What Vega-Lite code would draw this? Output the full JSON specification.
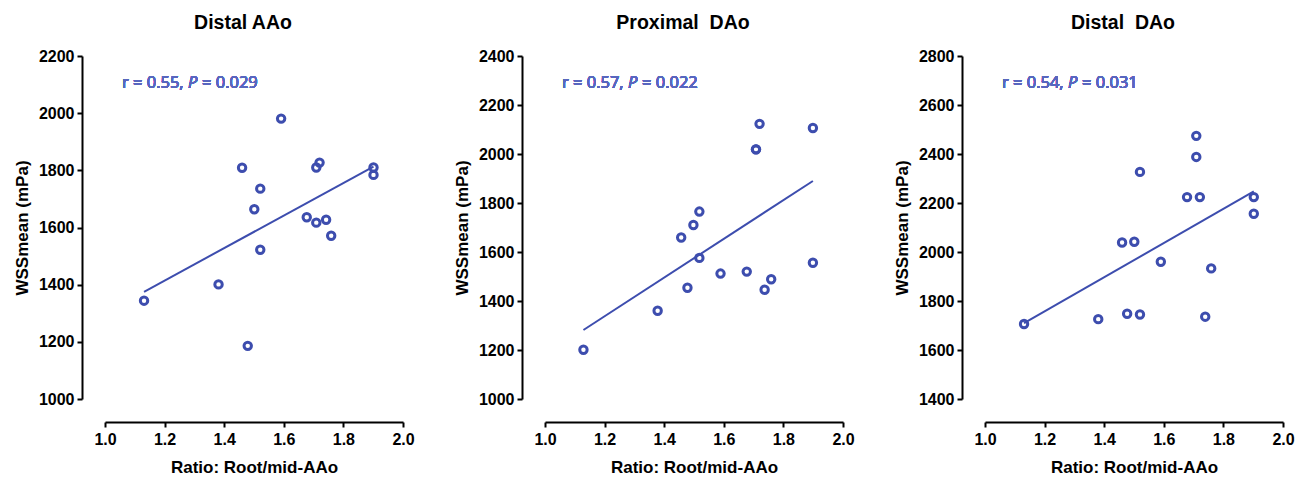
{
  "$schema": "https://vega.github.io/schema/vega-lite/v6.json",
  "background": "white",
  "padding": {"left": 13, "top": 12, "right": 5, "bottom": 5},
  "spacing": 142,
  "bounds": "flush",
  "config": {
    "view": {"stroke": null},
    "axis": {
      "grid": false, "domainColor": "black", "domainWidth": 2, "tickColor": "black", "tickWidth": 2, "tickSize": 5,
      "labelFont": "Liberation Sans", "labelFontWeight": "bold", "labelFontSize": 16, "labelColor": "black", "labelFlush": false,
      "titleFont": "Liberation Sans", "titleFontWeight": "bold", "titleFontSize": 17, "titleColor": "black",
      "offset": 23
    },
    "axisX": {"titlePadding": 12, "labelPadding": 4},
    "axisY": {"titlePadding": 7, "labelPadding": 3},
    "title": {"font": "Liberation Sans", "fontWeight": "bold", "fontSize": 19.5, "color": "black", "dx": -11, "offset": 15},
    "text": {"font": "Open Sans", "fontSize": 16.5, "color": "#5866BF", "align": "left", "baseline": "middle"}
  },
  "datasets": {
    "aao": [
      {"ratio": 1.131, "wss": 1344}, {"ratio": 1.381, "wss": 1401}, {"ratio": 1.479, "wss": 1186}, {"ratio": 1.46, "wss": 1809},
      {"ratio": 1.521, "wss": 1736}, {"ratio": 1.501, "wss": 1664}, {"ratio": 1.521, "wss": 1522}, {"ratio": 1.591, "wss": 1981},
      {"ratio": 1.709, "wss": 1810}, {"ratio": 1.72, "wss": 1827}, {"ratio": 1.677, "wss": 1636}, {"ratio": 1.709, "wss": 1617},
      {"ratio": 1.742, "wss": 1627}, {"ratio": 1.759, "wss": 1571}, {"ratio": 1.901, "wss": 1810}, {"ratio": 1.901, "wss": 1784}
    ],
    "pdao": [
      {"ratio": 1.129, "wss": 1201}, {"ratio": 1.378, "wss": 1360}, {"ratio": 1.478, "wss": 1454}, {"ratio": 1.457, "wss": 1659},
      {"ratio": 1.498, "wss": 1710}, {"ratio": 1.518, "wss": 1765}, {"ratio": 1.518, "wss": 1576}, {"ratio": 1.589, "wss": 1512},
      {"ratio": 1.677, "wss": 1520}, {"ratio": 1.708, "wss": 2019}, {"ratio": 1.708, "wss": 2019}, {"ratio": 1.72, "wss": 2123}, {"ratio": 1.737, "wss": 1446},
      {"ratio": 1.759, "wss": 1489}, {"ratio": 1.899, "wss": 2106}, {"ratio": 1.899, "wss": 1556}
    ],
    "ddao": [
      {"ratio": 1.131, "wss": 1706}, {"ratio": 1.38, "wss": 1726}, {"ratio": 1.46, "wss": 2039}, {"ratio": 1.501, "wss": 2042},
      {"ratio": 1.477, "wss": 1748}, {"ratio": 1.52, "wss": 1745}, {"ratio": 1.52, "wss": 2327}, {"ratio": 1.59, "wss": 1960},
      {"ratio": 1.678, "wss": 2224}, {"ratio": 1.721, "wss": 2224}, {"ratio": 1.709, "wss": 2474}, {"ratio": 1.709, "wss": 2388},
      {"ratio": 1.739, "wss": 1736}, {"ratio": 1.759, "wss": 1933}, {"ratio": 1.902, "wss": 2224}, {"ratio": 1.902, "wss": 2156}
    ]
  },
  "hconcat": [
    {
      "title": "Distal AAo",
      "width": 298, "height": 343,
      "data": {"name": "aao"},
      "encoding": {
        "x": {"field": "ratio", "type": "quantitative", "title": "Ratio: Root/mid-AAo",
              "scale": {"domain": [1, 2], "nice": false, "zero": false},
              "axis": {"values": [1.0, 1.2, 1.4, 1.6, 1.8, 2.0], "format": ".1f"}},
        "y": {"field": "wss", "type": "quantitative", "title": "WSSmean (mPa)",
              "scale": {"domain": [1000, 2200], "nice": false, "zero": false},
              "axis": {"values": [1000, 1200, 1400, 1600, 1800, 2000, 2200], "format": "d"}}
      },
      "layer": [
        {"mark": {"type": "line", "color": "#3D4DAE", "strokeWidth": 2}, "transform": [{"regression": "wss", "on": "ratio"}]},
        {"mark": {"type": "point", "shape": "circle", "filled": false, "color": "#3D4DAE", "strokeWidth": 3, "size": 55, "opacity": 1}},
        {"mark": {"type": "text", "text": "r = 0.55,"}, "encoding": {"x": {"datum": 1.057}, "y": {"datum": 2105}}},
        {"mark": {"type": "text", "text": "P", "fontStyle": "italic", "dx": 66}, "encoding": {"x": {"datum": 1.057}, "y": {"datum": 2105}}},
        {"mark": {"type": "text", "text": "= 0.029", "dx": 80}, "encoding": {"x": {"datum": 1.057}, "y": {"datum": 2105}}}
      ]
    },
    {
      "title": "Proximal \u00a0DAo",
      "width": 298, "height": 343,
      "data": {"name": "pdao"},
      "encoding": {
        "x": {"field": "ratio", "type": "quantitative", "title": "Ratio: Root/mid-AAo",
              "scale": {"domain": [1, 2], "nice": false, "zero": false},
              "axis": {"values": [1.0, 1.2, 1.4, 1.6, 1.8, 2.0], "format": ".1f"}},
        "y": {"field": "wss", "type": "quantitative", "title": "WSSmean (mPa)",
              "scale": {"domain": [1000, 2400], "nice": false, "zero": false},
              "axis": {"values": [1000, 1200, 1400, 1600, 1800, 2000, 2200, 2400], "format": "d"}}
      },
      "layer": [
        {"mark": {"type": "line", "color": "#3D4DAE", "strokeWidth": 2}, "transform": [{"regression": "wss", "on": "ratio"}]},
        {"mark": {"type": "point", "shape": "circle", "filled": false, "color": "#3D4DAE", "strokeWidth": 3, "size": 55, "opacity": 1}},
        {"mark": {"type": "text", "text": "r = 0.57,"}, "encoding": {"x": {"datum": 1.057}, "y": {"datum": 2290}}},
        {"mark": {"type": "text", "text": "P", "fontStyle": "italic", "dx": 66}, "encoding": {"x": {"datum": 1.057}, "y": {"datum": 2290}}},
        {"mark": {"type": "text", "text": "= 0.022", "dx": 80}, "encoding": {"x": {"datum": 1.057}, "y": {"datum": 2290}}}
      ]
    },
    {
      "title": "Distal \u00a0DAo",
      "width": 298, "height": 343,
      "data": {"name": "ddao"},
      "encoding": {
        "x": {"field": "ratio", "type": "quantitative", "title": "Ratio: Root/mid-AAo",
              "scale": {"domain": [1, 2], "nice": false, "zero": false},
              "axis": {"values": [1.0, 1.2, 1.4, 1.6, 1.8, 2.0], "format": ".1f"}},
        "y": {"field": "wss", "type": "quantitative", "title": "WSSmean (mPa)",
              "scale": {"domain": [1400, 2800], "nice": false, "zero": false},
              "axis": {"values": [1400, 1600, 1800, 2000, 2200, 2400, 2600, 2800], "format": "d"}}
      },
      "layer": [
        {"mark": {"type": "line", "color": "#3D4DAE", "strokeWidth": 2}, "transform": [{"regression": "wss", "on": "ratio"}]},
        {"mark": {"type": "point", "shape": "circle", "filled": false, "color": "#3D4DAE", "strokeWidth": 3, "size": 55, "opacity": 1}},
        {"mark": {"type": "text", "text": "r = 0.54,"}, "encoding": {"x": {"datum": 1.057}, "y": {"datum": 2690}}},
        {"mark": {"type": "text", "text": "P", "fontStyle": "italic", "dx": 66}, "encoding": {"x": {"datum": 1.057}, "y": {"datum": 2690}}},
        {"mark": {"type": "text", "text": "= 0.031", "dx": 80}, "encoding": {"x": {"datum": 1.057}, "y": {"datum": 2690}}}
      ]
    }
  ]
}
